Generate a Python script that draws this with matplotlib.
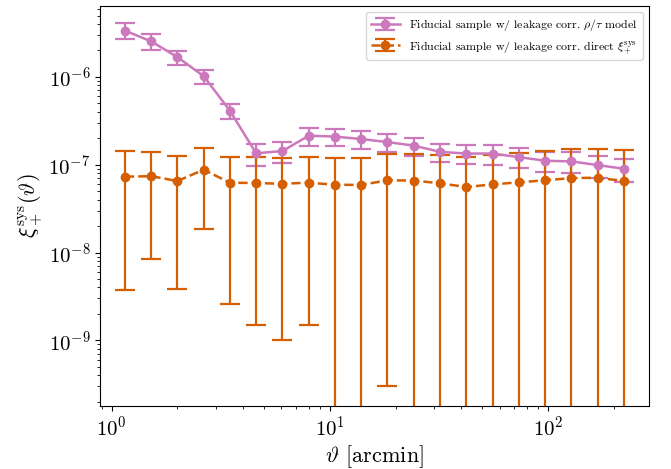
import matplotlib
matplotlib.use("Agg")
import matplotlib.pyplot as plt
import numpy as np

plt.rcParams['font.family'] = 'serif'
plt.rcParams['font.serif'] = ['cmr10']
plt.rcParams['mathtext.fontset'] = 'cm'
plt.rcParams['axes.formatter.use_mathtext'] = True

# angular bin centres [arcmin]
theta = [1.15, 1.52, 2.00, 2.64, 3.48, 4.59, 6.06, 8.00, 10.55, 13.92,
         18.37, 24.24, 31.98, 42.20, 55.68, 73.47, 96.94, 127.9, 168.8, 222.7]

# rho/tau model
xi_model = [3.37e-6, 2.53e-6, 1.68e-6, 1.02e-6, 4.13e-7, 1.35e-7, 1.43e-7, 2.14e-7, 2.09e-7, 1.96e-7,
            1.81e-7, 1.65e-7, 1.40e-7, 1.34e-7, 1.34e-7, 1.22e-7, 1.11e-7, 1.09e-7, 9.9e-8, 9.0e-8]
err_model = [7.0e-7, 5.1e-7, 3.1e-7, 1.9e-7, 7.8e-8, 3.8e-8, 3.9e-8, 5.0e-8, 4.7e-8, 4.5e-8,
             4.3e-8, 3.8e-8, 3.4e-8, 3.3e-8, 3.4e-8, 3.1e-8, 2.9e-8, 2.9e-8, 2.8e-8, 2.7e-8]

# direct estimate
xi_direct = [7.3e-8, 7.4e-8, 6.52e-8, 8.77e-8, 6.24e-8, 6.18e-8, 6.07e-8, 6.24e-8, 5.91e-8, 5.89e-8,
             6.64e-8, 6.6e-8, 6.14e-8, 5.57e-8, 5.97e-8, 6.3e-8, 6.64e-8, 7.05e-8, 7.1e-8, 6.52e-8]
err_direct = [6.93e-8, 6.55e-8, 6.14e-8, 6.9e-8, 5.98e-8, 6.03e-8, 5.97e-8, 6.09e-8, 6.0e-8, 6.0e-8,
              6.61e-8, 6.7e-8, 6.66e-8, 6.7e-8, 6.9e-8, 7.4e-8, 7.7e-8, 8.1e-8, 8.0e-8, 8.0e-8]

c_pink = '#CC78BC'
c_orange = '#D55E00'

fig = plt.figure(figsize=(6.71, 4.69), dpi=100)
ax = fig.add_axes([0.149, 0.134, 0.818, 0.853])

ax.errorbar(theta, xi_model, yerr=err_model, color=c_pink, marker='o', ms=6,
            lw=1.8, capsize=7, capthick=1.6, elinewidth=1.6,
            label=r'Fiducial sample w/ leakage corr. $\rho/\tau$ model')
ax.errorbar(theta, xi_direct, yerr=err_direct, color=c_orange, marker='o', ms=6,
            lw=1.8, ls='--', capsize=7, capthick=1.6, elinewidth=1.6,
            label=r'Fiducial sample w/ leakage corr. direct $\xi_+^{\rm sys}$')

ax.set_xscale('log')
ax.set_yscale('log')
ax.set_ylim(1.78e-10, 6.4e-6)
ax.set_xlabel(r'$\vartheta$ [arcmin]', fontsize=16, labelpad=2)
ax.set_ylabel(r'$\xi_+^{\rm sys}(\vartheta)$', fontsize=16, labelpad=2)
ax.tick_params(labelsize=15)
ax.legend(loc='upper right', fontsize=8.6, handlelength=2.4)

fig.savefig('out.png', dpi=100)
